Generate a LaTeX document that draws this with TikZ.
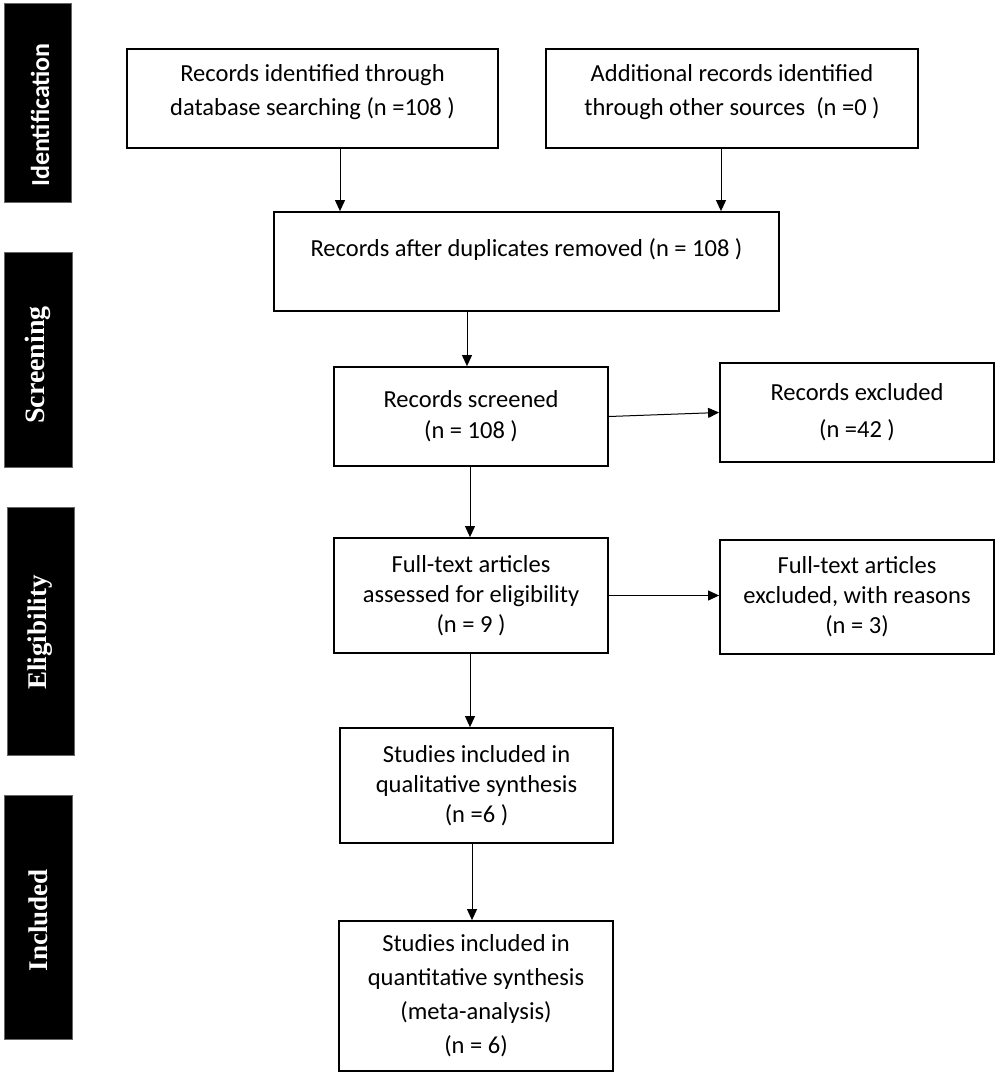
\documentclass[tikz,border=0pt]{standalone}
\usepackage{fontspec}
\usepackage{graphicx}
\setmainfont{Carlito}
\newfontfamily\sidesans{Carlito}
\newfontfamily\sideserif{Liberation Serif}
\usetikzlibrary{arrows.meta}
\tikzset{
  box/.style={draw=black, line width=1.8pt, inner sep=0pt, fill=white},
  txt/.style={align=center, inner sep=0pt, font=\fontsize{24.5}{31}\selectfont},
  side/.style={fill=black, draw=black!60, line width=0.6pt, inner sep=0pt},
  sidetxt/.style={text=white, rotate=90, inner sep=0pt},
  arr/.style={line width=1pt, -{Triangle[length=11pt,width=10pt]}},
}
\begin{document}
\begin{tikzpicture}[x=1pt,y=-1pt]
\useasboundingbox (0,0) rectangle (1000,1077);
% side bars
\node[side, minimum width=67, minimum height=199] (s1) at (37.5,102.5) {};
\node[sidetxt, font=\sidesans\bfseries\fontsize{26}{30}\selectfont] (l1) at (40,115) {Identification};
\node[side, minimum width=68, minimum height=215] (s2) at (38,359.5) {};
\node[sidetxt, font=\sideserif\bfseries\fontsize{28}{32}\selectfont] (l2) at (38,365) {Screening};
\node[side, minimum width=67, minimum height=248] (s3) at (40.5,631) {};
\node[sidetxt, font=\sideserif\bfseries\fontsize{27}{32}\selectfont] (l3) at (40.5,632.5) {Eligibility};
\node[side, minimum width=68, minimum height=244] (s4) at (38,917) {};
\node[sidetxt, font=\sideserif\bfseries\fontsize{27}{32}\selectfont] (l4) at (38,920) {Included};
% boxes
\node[box, minimum width=371, minimum height=99] (b1) at (312.5,98.5) {};
\node[txt, font=\fontsize{24.5}{34}\selectfont] (t1) at (312.5,92) {Records identified through\\database searching (n =108 )};
\node[box, minimum width=372, minimum height=99] (b2) at (732,98.5) {};
\node[txt, font=\fontsize{24.5}{34}\selectfont] (t2) at (732,92) {Additional records identified\\through other sources~~(n =0 )};
\node[box, minimum width=505, minimum height=99] (b3) at (526.5,261.5) {};
\node[txt] (t3) at (526.5,250) {Records after duplicates removed (n = 108 )};
\node[box, minimum width=274, minimum height=99, txt] (b4) at (471,416.5) {Records screened\\(n = 108 )};
\node[box, minimum width=274, minimum height=99, txt, font=\fontsize{24.5}{37}\selectfont] (e1) at (857,412.5) {Records excluded\\(n =42 )};
\node[box, minimum width=274, minimum height=115, txt, font=\fontsize{24.5}{30}\selectfont] (b5) at (471,595.5) {Full-text articles\\assessed for eligibility\\(n = 9 )};
\node[box, minimum width=274, minimum height=114, txt, font=\fontsize{24.5}{30}\selectfont] (e2) at (857,597) {Full-text articles\\excluded, with reasons\\(n = 3)};
\node[box, minimum width=273, minimum height=115, txt, font=\fontsize{24.5}{30}\selectfont] (b6) at (476.5,785.5) {Studies included in\\qualitative synthesis\\(n =6 )};
\node[box, minimum width=274, minimum height=150, txt, font=\fontsize{24.5}{34}\selectfont] (b7) at (476,996) {Studies included in\\quantitative synthesis\\(meta-analysis)\\(n = 6)};
% arrow columns
\coordinate (x1) at (340,0);
\coordinate (x2) at (721,0);
\coordinate (x3) at (467,0);
\coordinate (x4) at (470,0);
\coordinate (x5) at (472,0);
\draw[arr] (b1.south -| x1) -- (b3.north -| x1);
\draw[arr] (b2.south -| x2) -- (b3.north -| x2);
\draw[arr] (b3.south -| x3) -- (b4.north -| x3);
\draw[arr] (b4.south -| x4) -- (b5.north -| x4);
\draw[arr] (b5.south -| x4) -- (b6.north -| x4);
\draw[arr] (b6.south -| x5) -- (b7.north -| x5);
\draw[arr] (b4.east) -- (e1.west);
\draw[arr] (b5.east) -- (b5.east -| e2.west);
\end{tikzpicture}
\end{document}
